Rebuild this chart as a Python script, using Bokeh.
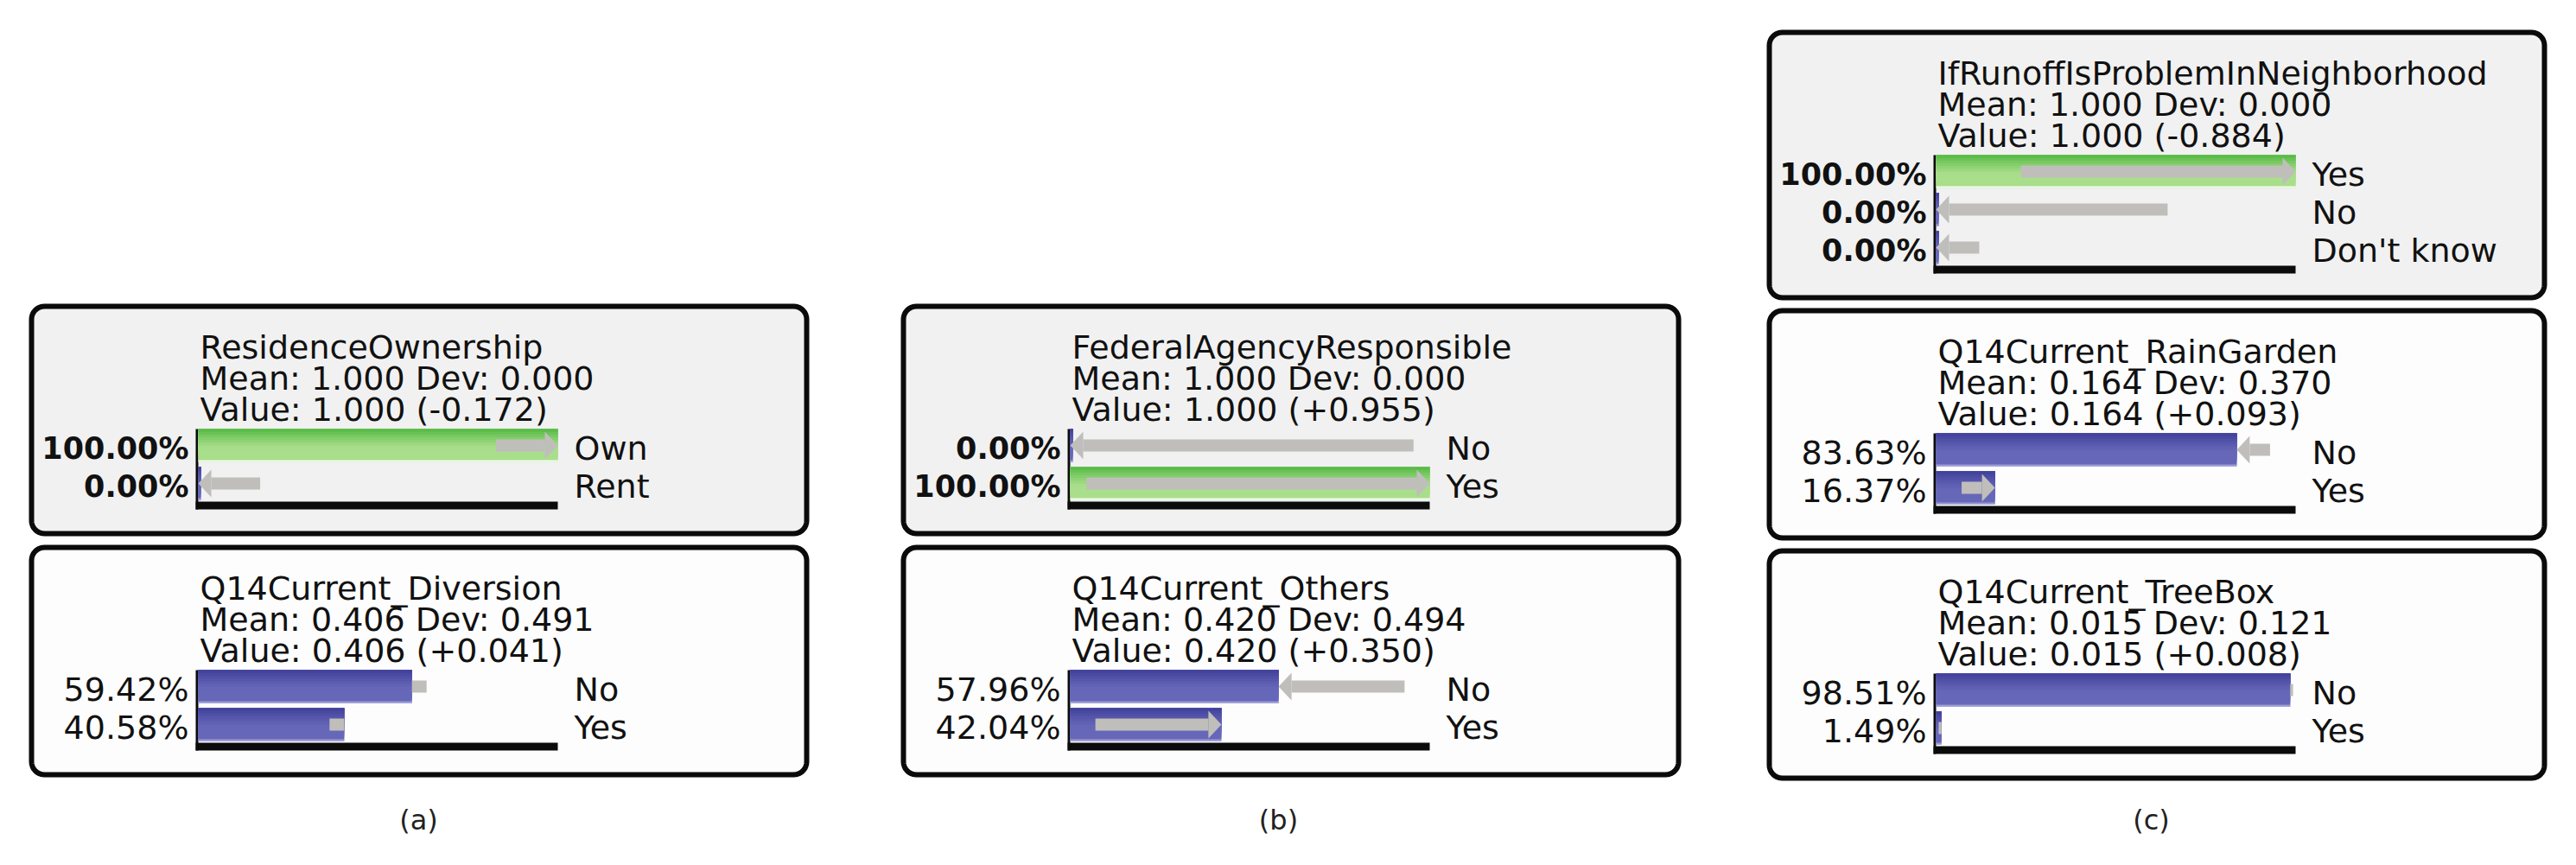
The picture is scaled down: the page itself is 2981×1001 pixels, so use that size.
import math
from bokeh.plotting import figure
from bokeh.models import Range1d, ColumnDataSource
from bokeh.core.properties import value
from bokeh.embed import file_html
from bokeh.resources import INLINE

# ---------------- data ----------------
# panel (a)
residence_states = ["Own", "Rent"]
residence_pct = [100.00, 0.00]
residence_prior = [82.8, 17.2]
residence_stats = [1.000, 0.000, 1.000, -0.172]   # mean, dev, value, change

diversion_states = ["No", "Yes"]
diversion_pct = [59.42, 40.58]
diversion_prior = [63.5, 36.5]
diversion_stats = [0.406, 0.491, 0.406, 0.041]

# panel (b)
federal_states = ["No", "Yes"]
federal_pct = [0.00, 100.00]
federal_prior = [95.5, 4.5]
federal_stats = [1.000, 0.000, 1.000, 0.955]

others_states = ["No", "Yes"]
others_pct = [57.96, 42.04]
others_prior = [93.0, 7.0]
others_stats = [0.420, 0.494, 0.420, 0.350]

# panel (c)
runoff_states = ["Yes", "No", "Don't know"]
runoff_pct = [100.00, 0.00, 0.00]
runoff_prior = [23.6, 64.4, 12.0]
runoff_stats = [1.000, 0.000, 1.000, -0.884]

raingarden_states = ["No", "Yes"]
raingarden_pct = [83.63, 16.37]
raingarden_prior = [92.9, 7.1]
raingarden_stats = [0.164, 0.370, 0.164, 0.093]

treebox_states = ["No", "Yes"]
treebox_pct = [98.51, 1.49]
treebox_prior = [99.3, 0.7]
treebox_stats = [0.015, 0.121, 0.015, 0.008]

panel_labels = ["(a)", "(b)", "(c)"]

# ---------------- layout (pixels of the 2981x1001 picture) ----------------
BOX_W = 903
BAR_OFF = 196
BAR_LEN = 416
ROW0 = 164
PITCH = 44
BAR_H = 38
FONT = value("DejaVu Sans")
FS = value("38px")
FS_BOLD = value("35px")

nodes = [
    # name, states, pct, prior, stats, evidence, left, top
    ("ResidenceOwnership", residence_states, residence_pct, residence_prior, residence_stats, True, 41, 359),
    ("Q14Current_Diversion", diversion_states, diversion_pct, diversion_prior, diversion_stats, False, 41, 638),
    ("FederalAgencyResponsible", federal_states, federal_pct, federal_prior, federal_stats, True, 1050, 359),
    ("Q14Current_Others", others_states, others_pct, others_prior, others_stats, False, 1050, 638),
    ("IfRunoffIsProblemInNeighborhood", runoff_states, runoff_pct, runoff_prior, runoff_stats, True, 2052, 42),
    ("Q14Current_RainGarden", raingarden_states, raingarden_pct, raingarden_prior, raingarden_stats, False, 2052, 364),
    ("Q14Current_TreeBox", treebox_states, treebox_pct, treebox_prior, treebox_stats, False, 2052, 642),
]
label_x = [492, 1487, 2497]
LABEL_MID = 956


def yy(Y):
    return 1001 - Y


def rounded(x0, Ytop, x1, Ybot, r, n=10):
    y1, y0 = yy(Ytop), yy(Ybot)
    xs, ys = [], []
    for cx, cy, a0 in [(x1 - r, y1 - r, 0), (x0 + r, y1 - r, 90), (x0 + r, y0 + r, 180), (x1 - r, y0 + r, 270)]:
        for k in range(n + 1):
            a = math.radians(a0 + 90 * k / n)
            xs.append(cx + r * math.cos(a))
            ys.append(cy + r * math.sin(a))
    return xs, ys


def mix(c0, c1, t):
    a = [int(c0[i:i + 2], 16) for i in (1, 3, 5)]
    b = [int(c1[i:i + 2], 16) for i in (1, 3, 5)]
    return "#%02x%02x%02x" % tuple(round(a[k] + (b[k] - a[k]) * t) for k in range(3))


p = figure(width=2965, height=985, x_range=Range1d(8, 2973), y_range=Range1d(8, 993),
           output_backend="svg", toolbar_location=None, min_border=0,
           x_axis_location=None, y_axis_location=None)
p.grid.visible = False
p.outline_line_color = None
p.background_fill_color = "white"
p.border_fill_color = "white"

box_xs, box_ys, box_fill = [], [], []
axis_q = dict(left=[], right=[], top=[], bottom=[])
bars = dict(left=[], right=[], top=[], bottom=[], green=[])
body = dict(left=[], right=[], top=[], bottom=[])
heads_x, heads_y = [], []
title_t = dict(x=[], y=[], text=[])
pct_reg = dict(x=[], y=[], text=[])
pct_bold = dict(x=[], y=[], text=[])
state_t = dict(x=[], y=[], text=[])

for name, states, pct, prior, stats, evid, L, T in nodes:
    n = len(states)
    last = T + ROW0 + PITCH * (n - 1)
    axis_y = last + 25
    Hb = axis_y - T + 36
    xs, ys = rounded(L + 3, T + 3, L + BOX_W - 3, T + Hb - 3, 15)
    box_xs.append(xs); box_ys.append(ys)
    box_fill.append("#f1f1f1" if evid else "#fdfdfd")
    bs = L + BAR_OFF
    # axis lines
    axis_q["left"] += [bs - 3, bs - 3]
    axis_q["right"] += [bs + BAR_LEN, bs]
    axis_q["top"] += [yy(axis_y - 4), yy(T + ROW0 - BAR_H / 2)]
    axis_q["bottom"] += [yy(axis_y + 5), yy(axis_y + 5)]
    # title lines
    mean, dev, val, chg = stats
    for k, s in enumerate([name, f"Mean: {mean:.3f} Dev: {dev:.3f}", f"Value: {val:.3f} ({chg:+.3f})"]):
        title_t["x"].append(bs + 2); title_t["y"].append(yy(T + 50 + 36 * k)); title_t["text"].append(s)
    for i, (st, v, pr) in enumerate(zip(states, pct, prior)):
        yc = T + ROW0 + PITCH * i
        w = max(BAR_LEN * v / 100.0, 3)
        bars["left"].append(bs); bars["right"].append(bs + w)
        bars["top"].append(yy(yc - BAR_H / 2)); bars["bottom"].append(yy(yc + BAR_H / 2))
        bars["green"].append(evid and v > 99.9)
        # arrow prior -> posterior
        x0 = bs + BAR_LEN * pr / 100.0
        x1 = bs + BAR_LEN * v / 100.0
        d = x1 - x0
        sg = 1 if d > 0 else -1
        if abs(d) > 22:
            hb = x1 - sg * 15
            body["left"].append(min(x0, hb)); body["right"].append(max(x0, hb))
            heads_x.append([hb, x1, hb]); heads_y.append([yy(yc - 16), yy(yc), yy(yc + 16)])
        else:
            body["left"].append(min(x0, x1)); body["right"].append(max(x0, x1))
        body["top"].append(yy(yc - 7)); body["bottom"].append(yy(yc + 7))
        tgt = pct_bold if evid else pct_reg
        tgt["x"].append(bs - 11); tgt["y"].append(yy(yc + 3)); tgt["text"].append(f"{v:.2f}%")
        state_t["x"].append(bs + BAR_LEN + 19); state_t["y"].append(yy(yc + 3)); state_t["text"].append(st)

# boxes
p.patches(box_xs, box_ys, fill_color=box_fill, line_color="#0b0b0b", line_width=6, line_join="round")
# axes
p.quad(source=ColumnDataSource(axis_q), left="left", right="right", top="top", bottom="bottom",
       fill_color="#0b0b0b", line_color=None)

# bars with vertical shading (top darker -> bottom lighter)
g = [i for i, f in enumerate(bars["green"]) if f]
b = [i for i, f in enumerate(bars["green"]) if not f]
grad = {True: ("#47b338", "#a9de8b"), False: ("#3a3a95", "#6767b9")}
NL = 12
for green, idx in [(True, g), (False, b)]:
    L_ = [bars["left"][i] for i in idx]
    R_ = [bars["right"][i] for i in idx]
    T_ = [bars["top"][i] for i in idx]
    B_ = [bars["bottom"][i] for i in idx]
    c_top, c_bot = grad[green]
    for k in range(NL, 0, -1):
        frac = k / NL
        t = min(1.0, frac / 0.6) ** 0.8
        p.quad(left=L_, right=R_, top=T_, bottom=[tt - (tt - bb) * frac for tt, bb in zip(T_, B_)],
               fill_color=mix(c_top, c_bot, t), line_color=None)
    p.quad(left=L_, right=R_, top=[bb + 2 for bb in B_], bottom=B_,
           fill_color="#f6fbf2" if green else "#9c9cd8", line_color=None)

# change arrows
p.quad(source=ColumnDataSource(body), left="left", right="right", top="top", bottom="bottom",
       fill_color="#c0bebb", line_color=None)
p.patches(heads_x, heads_y, fill_color="#c0bebb", line_color=None)

# texts
p.text(source=ColumnDataSource(title_t), x="x", y="y", text="text", text_font=FONT, text_font_size=FS,
       text_color="#111111", text_align="left", text_baseline="middle")
p.text(source=ColumnDataSource(pct_reg), x="x", y="y", text="text", text_font=FONT, text_font_size=FS,
       text_color="#111111", text_align="right", text_baseline="middle")
p.text(source=ColumnDataSource(pct_bold), x="x", y="y", text="text", text_font=FONT, text_font_size=FS_BOLD,
       text_font_style="bold", text_color="#111111", text_align="right", text_baseline="middle")
p.text(source=ColumnDataSource(state_t), x="x", y="y", text="text", text_font=FONT, text_font_size=FS,
       text_color="#111111", text_align="left", text_baseline="middle")
p.text(x=label_x, y=[yy(LABEL_MID)] * 3, text=panel_labels, text_font=FONT, text_font_size=value("32px"),
       text_color="#222222", text_align="center", text_baseline="middle")

open("out.html", "w").write(file_html(p, INLINE))
